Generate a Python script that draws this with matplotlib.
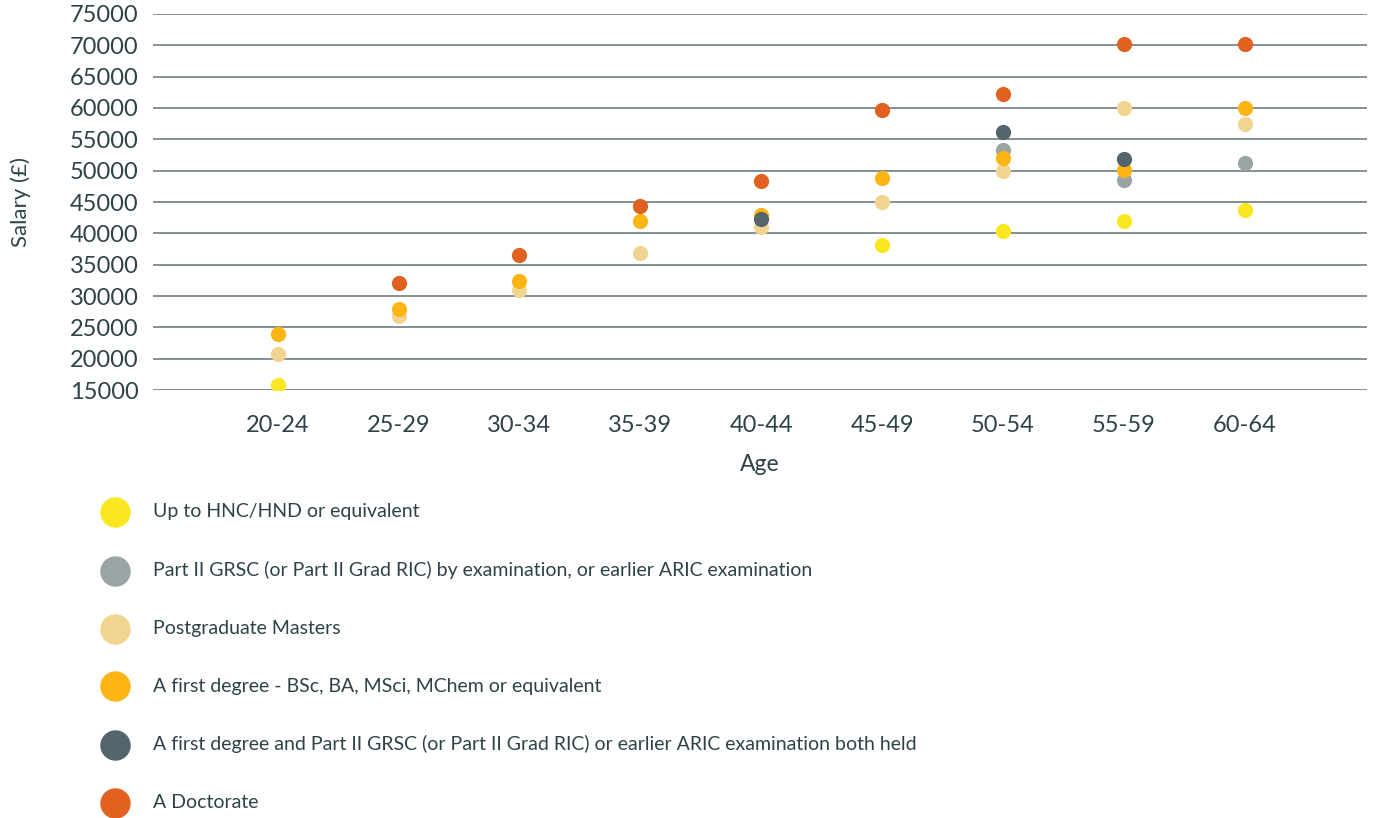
import matplotlib.pyplot as plt
import numpy as np

ages = ["20-24", "25-29", "30-34", "35-39", "40-44", "45-49", "50-54", "55-59", "60-64"]

series_names = [
    "Up to HNC/HND or equivalent",
    "Part II GRSC (or Part II Grad RIC) by examination, or earlier ARIC examination",
    "Postgraduate Masters",
    "A first degree - BSc, BA, MSci, MChem or equivalent",
    "A first degree and Part II GRSC (or Part II Grad RIC) or earlier ARIC examination both held",
    "A Doctorate",
]

nan = np.nan
hnc = [15800, nan, nan, nan, nan, 38100, 40400, 41900, 43700]
part2 = [nan, nan, nan, nan, nan, nan, 53300, 48500, 51300]
masters = [20800, 26800, 31000, 36900, 41000, 45000, 50000, 60000, 57500]
first_degree = [24000, 28000, 32400, 41900, 43000, 48900, 52000, 50100, 60000]
first_and_part2 = [nan, nan, nan, nan, 42300, nan, 56100, 51800, nan]
doctorate = [nan, 32000, 36500, 44400, 48300, 59700, 62300, 70200, 70200]

colors = ["#f9e81f", "#9aa4a5", "#f0d48f", "#fcb515", "#53646a", "#e06120"]
text_color = "#2e4247"

plt.rcParams["font.family"] = ["Lato", "DejaVu Sans"]

fig = plt.figure(figsize=(13.75, 8.18), dpi=100)
ax = fig.add_axes([0.111, 0.5232, 0.883, 0.4597])

x = np.arange(len(ages))
all_series = [hnc, part2, masters, first_degree, first_and_part2, doctorate]
for values, name, color in zip(all_series, series_names, colors):
    ax.scatter(x, values, s=120, color=color, label=name, zorder=3, linewidths=0)

ax.set_ylim(15000, 75000)
ax.set_xlim(-1.034, 9.009)
ax.set_yticks(range(15000, 75001, 5000))
ax.set_xticks(x)
ax.set_xticklabels(ages)
ax.grid(axis="y", color="#657274", linewidth=1.1)
ax.set_axisbelow(True)
for spine in ax.spines.values():
    spine.set_visible(False)
ax.tick_params(axis="both", length=0, labelsize=17, colors=text_color)
ax.tick_params(axis="y", pad=10)
ax.tick_params(axis="x", pad=18)
ax.set_xlabel("Age", fontsize=16.5, color=text_color, labelpad=13)
ax.set_ylabel("Salary (£)", fontsize=16, color=text_color, labelpad=28)

handles, labels = ax.get_legend_handles_labels()
leg = fig.legend(
    handles, labels,
    loc="upper left",
    bbox_to_anchor=(0.0658, 0.397),
    frameon=False,
    fontsize=14,
    markerscale=2.0,
    labelspacing=2.1,
    handletextpad=1.2,
    borderpad=0,
    handlelength=1.5,
)
for t in leg.get_texts():
    t.set_color(text_color)

plt.savefig("out.png", dpi=100)
